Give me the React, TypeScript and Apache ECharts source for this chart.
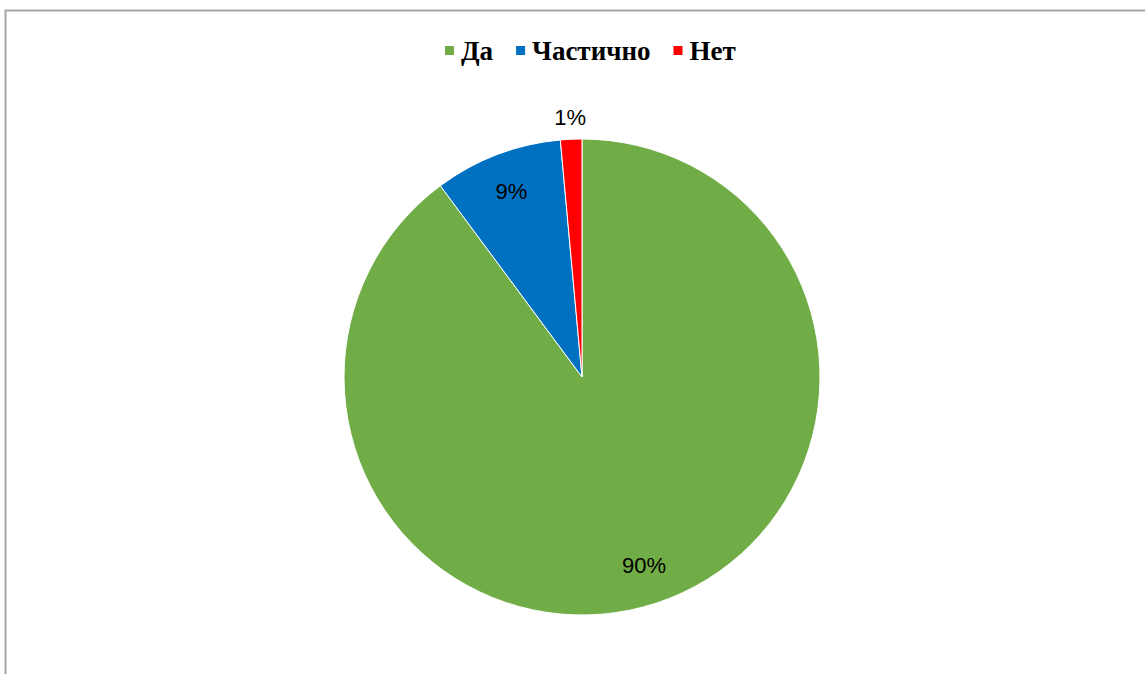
import React, { useEffect, useRef } from "react";
import * as echarts from "echarts";

const categories = ["Да", "Частично", "Нет"];
const values = [62, 6, 1];
const colors = ["#70AD47", "#0070C0", "#FF0000"];

export default function App() {
  const ref = useRef<HTMLDivElement>(null);
  useEffect(() => {
    const chart = echarts.init(ref.current!, null, { renderer: "svg" });
    const total = values.reduce((a, b) => a + b, 0);
    const fmt = (p: any) => Math.round((p.value / total) * 100) + "%";
    const baseData = categories.map((name, i) => ({
      name,
      value: values[i],
      itemStyle: { color: colors[i] },
    }));
    const labelStyle = {
      fontFamily: "Liberation Sans",
      fontSize: 22,
      color: "#000",
      formatter: fmt,
    };
    const R = 238;
    chart.setOption({
      animation: false,
      backgroundColor: "#fff",
      legend: {
        top: 32,
        left: 438,
        data: categories,
        icon: "rect",
        itemWidth: 11,
        itemHeight: 11,
        itemGap: 21,
        textStyle: {
          fontFamily: "Liberation Serif",
          fontWeight: "bold",
          fontSize: 27,
          color: "#000",
          padding: [0, 0, 0, 1],
        },
      },
      graphic: [
        {
          type: "rect",
          shape: { x: 5.5, y: 10.5, width: 1300, height: 800 },
          style: { fill: "none", stroke: "#a6a6a6", lineWidth: 2 },
          silent: true,
        },
      ],
      series: [
        {
          type: "pie",
          center: [582, 377],
          radius: [0, R],
          startAngle: 90,
          clockwise: true,
          label: { show: false },
          labelLine: { show: false },
          itemStyle: { borderColor: "#fff", borderWidth: 1 },
          emphasis: { disabled: true },
          data: baseData,
        },
        {
          type: "pie",
          center: [582, 377],
          radius: [R * 0.64, R],
          startAngle: 90,
          clockwise: true,
          silent: true,
          legendHoverLink: false,
          label: { show: true, position: "inside", ...labelStyle },
          labelLine: { show: false },
          itemStyle: { color: "transparent" },
          data: categories.map((name, i) => ({
            name,
            value: values[i],
            itemStyle: { color: "transparent" },
            label: { show: i < 2 },
          })),
        },
        {
          type: "pie",
          center: [582, 377],
          radius: [R, R * 1.16],
          startAngle: 90,
          clockwise: true,
          silent: true,
          legendHoverLink: false,
          label: { show: true, position: "inside", ...labelStyle },
          labelLine: { show: false },
          itemStyle: { color: "transparent" },
          data: categories.map((name, i) => ({
            name,
            value: values[i],
            itemStyle: { color: "transparent" },
            label: { show: i === 2 },
          })),
        },
      ],
    });
    return () => chart.dispose();
  }, []);
  return (
    <div
      ref={ref}
      style={{ position: "absolute", left: 0, top: 0, width: 1145, height: 674 }}
    />
  );
}
